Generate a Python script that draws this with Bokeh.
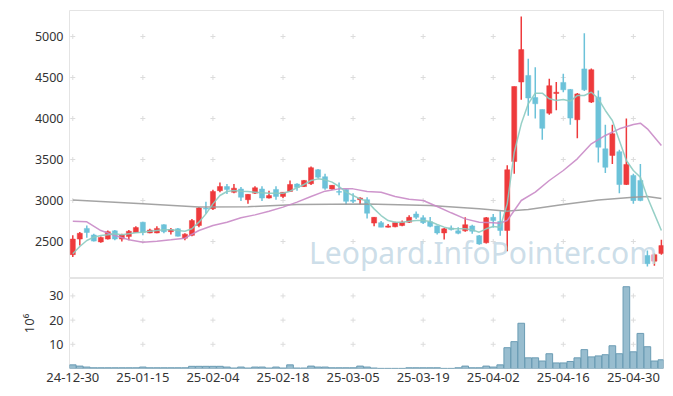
from bokeh.plotting import figure
from bokeh.layouts import column
from bokeh.models import Range1d, FixedTicker, Label, ColumnDataSource
from bokeh.embed import file_html
from bokeh.resources import INLINE

# ---------------- data ----------------
opens = [2340, 2530, 2660, 2580, 2495, 2530, 2630, 2530, 2560, 2610,
         2735, 2605, 2605, 2705, 2620, 2655, 2540, 2575, 2695, 2905,
         2900, 3120, 3170, 3100, 3140, 3010, 3090, 3140, 3030, 3135,
         3050, 3110, 3200, 3170, 3205, 3375, 3290, 3140, 3110, 3135,
         3005, 3010, 3010, 2725, 2730, 2675, 2680, 2695, 2735, 2835,
         2790, 2740, 2690, 2605, 2665, 2630, 2630, 2690, 2570, 2485,
         2795, 2745, 2635, 3475, 4445, 4525, 4255, 4110, 4065, 4305,
         4440, 4355, 3985, 4605, 4200, 4260, 3630, 3550, 3595, 3195,
         3305, 3245, 2330, 2260, 2355]
highs = [2575, 2615, 2695, 2595, 2560, 2635, 2640, 2595, 2640, 2685,
         2740, 2655, 2685, 2710, 2665, 2665, 2600, 2775, 2920, 2985,
         3130, 3220, 3200, 3200, 3165, 3080, 3175, 3175, 3120, 3175,
         3105, 3245, 3210, 3250, 3415, 3385, 3325, 3185, 3220, 3140,
         3090, 3040, 3040, 2800, 2750, 2715, 2740, 2755, 2820, 2865,
         2820, 2800, 2695, 2665, 2695, 2675, 2795, 2705, 2580, 2800,
         2835, 2870, 3430, 4390, 5245, 4730, 4625, 4110, 4485, 4445,
         4545, 4360, 4310, 5040, 4610, 4340, 3925, 3925, 3620, 4000,
         3325, 3445, 2390, 2355, 2520]
lows = [2310, 2450, 2545, 2500, 2485, 2525, 2515, 2500, 2515, 2605,
        2575, 2600, 2600, 2600, 2585, 2560, 2515, 2565, 2675, 2840,
        2885, 3100, 3080, 3090, 2995, 2960, 3080, 2995, 3025, 3010,
        3030, 3105, 3120, 3165, 3190, 3270, 3130, 3130, 3065, 2950,
        2970, 2950, 2780, 2685, 2675, 2670, 2675, 2685, 2725, 2775,
        2715, 2675, 2585, 2525, 2635, 2590, 2620, 2595, 2460, 2475,
        2670, 2570, 2380, 3325, 4230, 4035, 4000, 3740, 4045, 4100,
        4320, 3925, 3760, 4335, 4190, 3465, 3335, 3445, 3090, 3190,
        2960, 2990, 2195, 2205, 2340]
closes = [2530, 2600, 2610, 2505, 2550, 2620, 2530, 2580, 2625, 2670,
          2610, 2640, 2660, 2620, 2645, 2565, 2590, 2755, 2910, 2895,
          3110, 3170, 3135, 3150, 3040, 3075, 3155, 3030, 3060, 3050,
          3100, 3195, 3160, 3245, 3400, 3285, 3150, 3185, 3100, 2990,
          2990, 3030, 2845, 2795, 2675, 2690, 2730, 2735, 2795, 2795,
          2730, 2685, 2605, 2655, 2645, 2600, 2705, 2625, 2470, 2790,
          2755, 2635, 3375, 4390, 4840, 4250, 4180, 3880, 4400, 4320,
          4350, 4005, 4300, 4350, 4595, 3650, 3405, 3815, 3195, 3440,
          3000, 3000, 2230, 2340, 2450]
volumes = [1.5, 1.0, 0.6, 0.3, 0.3, 0.3, 0.3, 0.3, 0.3, 0.3,
           0.6, 0.3, 0.3, 0.3, 0.3, 0.3, 0.3, 0.9, 0.9, 0.9,
           0.9, 0.9, 0.6, 0.2, 0.6, 0.2, 0.6, 0.6, 0.2, 0.6,
           0.2, 1.5, 0.2, 0.2, 1.0, 0.6, 0.6, 0.3, 0.3, 0.3,
           0.3, 1.0, 0.6, 0.2, 0.05, 0.05, 0.05, 0.05, 0.3, 0.3,
           0.3, 0.3, 0.3, 0.05, 0.05, 0.3, 1.0, 0.3, 0.3, 1.0,
           0.6, 1.5, 8.6, 11.1, 18.7, 4.4, 4.4, 3.1, 6.1, 2.3,
           2.3, 2.9, 4.4, 7.8, 4.8, 5.2, 5.7, 9.4, 6.1, 33.8,
           6.9, 14.5, 9.0, 3.1, 3.6]
ma_short = [2350, 2439, 2512, 2553, 2573, 2582, 2594, 2582, 2594, 2606,
            2614, 2626, 2634, 2642, 2642, 2634, 2626, 2655, 2736, 2837,
            2959, 3061, 3110, 3122, 3114, 3110, 3102, 3094, 3089, 3089,
            3089, 3114, 3155, 3195, 3244, 3264, 3252, 3224, 3171, 3102,
            3061, 3020, 2990, 2898, 2817, 2756, 2736, 2736, 2748, 2756,
            2756, 2744, 2707, 2675, 2655, 2655, 2655, 2642, 2614, 2655,
            2683, 2675, 2959, 3589, 3935, 4179, 4309, 4309, 4240, 4220,
            4232, 4211, 4280, 4280, 4321, 4240, 4098, 3976, 3732, 3488,
            3366, 3284, 3040, 2837, 2634]
ma_mid_idx = [0, 2, 4, 6, 8, 10, 12, 14, 16, 18, 20, 22, 24, 26, 28, 30,
              32, 34, 36, 38, 40, 42, 44, 46, 48, 50, 52, 54, 56, 58, 60,
              61, 62, 63, 64, 66, 68, 70, 72, 74, 76, 78, 80, 81, 82, 84]
ma_mid = [2748, 2740, 2634, 2573, 2521, 2492, 2504, 2521, 2541, 2634,
          2695, 2736, 2789, 2825, 2870, 2919, 2980, 3049, 3114, 3142,
          3142, 3110, 3100, 3049, 3016, 3000, 2927, 2850, 2776, 2736,
          2728, 2724, 2756, 2878, 3000, 3102, 3244, 3366, 3508, 3691,
          3793, 3874, 3927, 3943, 3874, 3671]
ma_long_idx = [0, 10, 18, 25, 32, 42, 51, 58, 62, 65, 70, 75, 80, 82, 84]
ma_long = [3005, 2960, 2920, 2925, 2950, 2958, 2940, 2900, 2870, 2890,
           2950, 3005, 3040, 3048, 3025]
tick_labels = ["24-12-30", "25-01-15", "25-02-04", "25-02-18", "25-03-05",
               "25-03-19", "25-04-02", "25-04-16", "25-04-30"]
price_ticks = [2500, 3000, 3500, 4000, 4500, 5000]
volume_ticks = [10, 20, 30]

# ---------------- styling ----------------
UP = "#ee3a3c"
DOWN = "#6cc2d9"
FONT = "Noto Sans"
n = len(opens)
x_ticks = list(range(0, n, 10))[:len(tick_labels)]
xr = Range1d(-0.47, n - 0.7)

idx = list(range(n))
up = [c >= o for o, c in zip(opens, closes)]
src = ColumnDataSource(dict(
    x=idx, open=opens, high=highs, low=lows, close=closes,
    top=[max(o, c) for o, c in zip(opens, closes)],
    bottom=[min(o, c) for o, c in zip(opens, closes)],
    color=[UP if u else DOWN for u in up],
    vol=volumes,
))


def style(fig):
    fig.outline_line_color = "#e4e4e4"
    fig.xgrid.grid_line_color = None
    fig.ygrid.grid_line_color = None
    for ax in fig.axis:
        ax.axis_line_color = None
        ax.major_tick_line_color = None
        ax.minor_tick_line_color = None
        ax.major_tick_out = 0
        ax.major_tick_in = 0
        ax.minor_tick_out = 0
        ax.major_label_standoff = 6
        ax.major_label_text_font = FONT
        ax.major_label_text_font_size = "12.5px"
        ax.major_label_text_color = "#333333"


p = figure(width=668, height=278, x_range=xr, y_range=Range1d(2049, 5317),
           output_backend="svg", toolbar_location=None,
           min_border_left=69, min_border_right=5, min_border_top=10,
           min_border_bottom=0, background_fill_color="white")
p.xaxis.visible = False
p.yaxis.ticker = FixedTicker(ticks=price_ticks)
style(p)

gx = [t for t in x_ticks for _ in price_ticks]
gy = [v for _ in x_ticks for v in price_ticks]
p.scatter(gx, gy, marker="cross", size=5, line_color="#dcdcdc", line_width=1)

wm = Label(x=83.4, y=2120, text="Leopard.InfoPointer.com", text_align="right",
           text_baseline="bottom", text_font=FONT, text_font_size="30px",
           text_color="#c6dae6", text_alpha=0.9)
p.add_layout(wm)

p.segment("x", "high", "x", "low", source=src, line_color="color", line_width=1.5)
p.vbar(x="x", top="top", bottom="bottom", width=0.72, source=src,
       fill_color="color", line_color="color", line_width=0.5)

p.line(ma_long_idx, ma_long, line_color="#9a9a9a", line_width=1.5, line_alpha=0.9)
p.line(ma_mid_idx, ma_mid, line_color="#c98ac6", line_width=1.5, line_alpha=0.9)
p.line(idx, ma_short, line_color="#8ccbc1", line_width=1.5, line_alpha=0.9)

v = figure(width=668, height=106, x_range=xr, y_range=Range1d(0, 37.2),
           output_backend="svg", toolbar_location=None,
           min_border_left=69, min_border_right=5, min_border_top=0,
           min_border_bottom=0, background_fill_color="white")
v.yaxis.ticker = FixedTicker(ticks=volume_ticks)
v.xaxis.ticker = FixedTicker(ticks=x_ticks)
v.xaxis.major_label_overrides = {t: lab for t, lab in zip(x_ticks, tick_labels)}
v.yaxis.axis_label = "10⁶"
v.yaxis.axis_label_text_font = FONT
v.yaxis.axis_label_text_font_style = "normal"
v.yaxis.axis_label_text_font_size = "13px"
v.yaxis.axis_label_text_color = "#333333"
v.yaxis.axis_label_standoff = 8
style(v)
v.xaxis.major_label_standoff = 4
v.xaxis.major_label_text_font_size = "13px"

vgx = [t for t in x_ticks for _ in volume_ticks]
vgy = [val for _ in x_ticks for val in volume_ticks]
v.scatter(vgx, vgy, marker="cross", size=5, line_color="#dcdcdc", line_width=1)
v.vbar(x="x", top="vol", bottom=0, width=0.95, source=src,
       fill_color="#8db6ca", fill_alpha=0.9, line_color="#6b9cb4", line_width=1)

layout = column(p, v, spacing=0)
open("out.html", "w").write(file_html(layout, INLINE))
